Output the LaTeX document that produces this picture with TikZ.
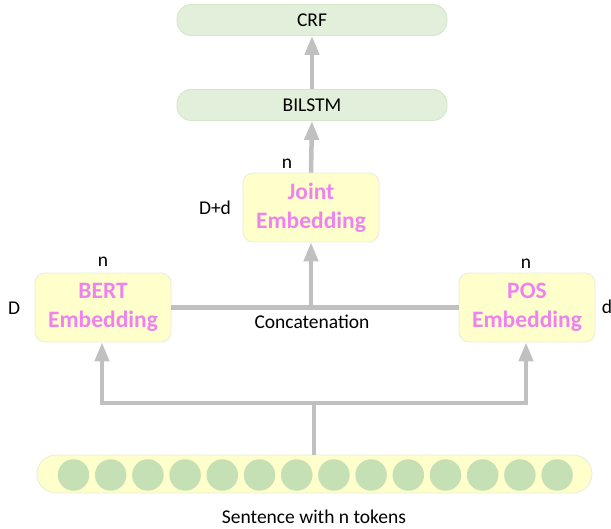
\documentclass[tikz,border=0pt]{standalone}
\usepackage{fontspec}
\setmainfont{Carlito}
\usetikzlibrary{arrows.meta}
\definecolor{boxgreen}{HTML}{E2EFDA}
\definecolor{boxgreenline}{HTML}{D3E6C8}
\definecolor{boxyellow}{HTML}{FFFFCC}
\definecolor{boxyellowline}{HTML}{E9EDD8}
\definecolor{tokgreen}{HTML}{C5E0B4}
\definecolor{pinktext}{HTML}{EE82EE}
\definecolor{arrgray}{HTML}{C0C0C0}
\tikzset{
  greenbox/.style={draw=boxgreenline, line width=0.8pt, fill=boxgreen, rounded corners=14pt,
    minimum width=270pt, minimum height=31pt, inner sep=0pt,
    font=\fontsize{19.5}{22}\selectfont},
  embbox/.style={draw=boxyellowline, line width=0.8pt, fill=boxyellow, rounded corners=10pt,
    minimum width=136pt, minimum height=69pt, inner sep=0pt, align=center,
    text=pinktext, font=\fontsize{23.5}{29}\selectfont\bfseries},
  pill/.style={draw=boxyellowline, line width=0.8pt, fill=boxyellow, rounded corners=19pt,
    minimum width=555pt, minimum height=38pt, inner sep=0pt},
  token/.style={circle, fill=tokgreen, minimum size=31.5pt, inner sep=0pt},
  lbl/.style={font=\fontsize{19.5}{22}\selectfont, inner sep=0pt},
  conn/.style={draw=arrgray, line width=4.5pt},
  arr/.style={conn, -{Triangle[width=14pt,length=19pt]}, color=arrgray},
}
\begin{document}
\begin{tikzpicture}[x=1pt,y=-1pt]
\useasboundingbox (0,0) rectangle (611,529);
% top boxes
\node[greenbox] (crf) at (312,20) {CRF};
\node[greenbox] (bilstm) at (312,105) {BILSTM};
% embedding boxes
\node[embbox] (joint) at (311,207.5) {Joint\\Embedding};
\node[embbox] (bert) at (103,307.5) {BERT\\Embedding};
\node[embbox] (pos) at (527,307.5) {POS\\Embedding};
% sentence pill
\node[pill] (sent) at (314.5,474) {};
\foreach \i in {0,...,13} {
  \node[token] (t\i) at ({73.5+37.2*\i},475) {};
}
% labels
\node[lbl] (nj) at (287,164) {n};
\node[lbl] (dj) at (215,208) {D+d};
\node[lbl] (nb) at (103,262) {n};
\node[lbl] (db) at (14,308) {D};
\node[lbl] (np) at (526,264) {n};
\node[lbl] (dp) at (607,307) {d};
\node[lbl] (concat) at (312,322) {Concatenation};
\node[lbl] (stext) at (314,517) {Sentence with n tokens};
% connectors
\coordinate (cmid) at (311,307);
\coordinate (bmid) at (314,403);
\coordinate (bl) at (102,403);
\coordinate (br) at (526,403);
\draw[conn] (bert.east) -- (pos.west);
\draw[arr] (cmid) -- (joint.south);
\draw[arr] (joint.north) -- (bilstm.south);
\draw[arr] (bilstm.north) -- (crf.south);
\draw[conn] (sent.north -| bmid) -- (bmid);
\draw[conn, line cap=rect] (bl) -- (br);
\draw[arr] (bl) -- (bl |- bert.south);
\draw[arr] (br) -- (br |- pos.south);
\end{tikzpicture}
\end{document}
